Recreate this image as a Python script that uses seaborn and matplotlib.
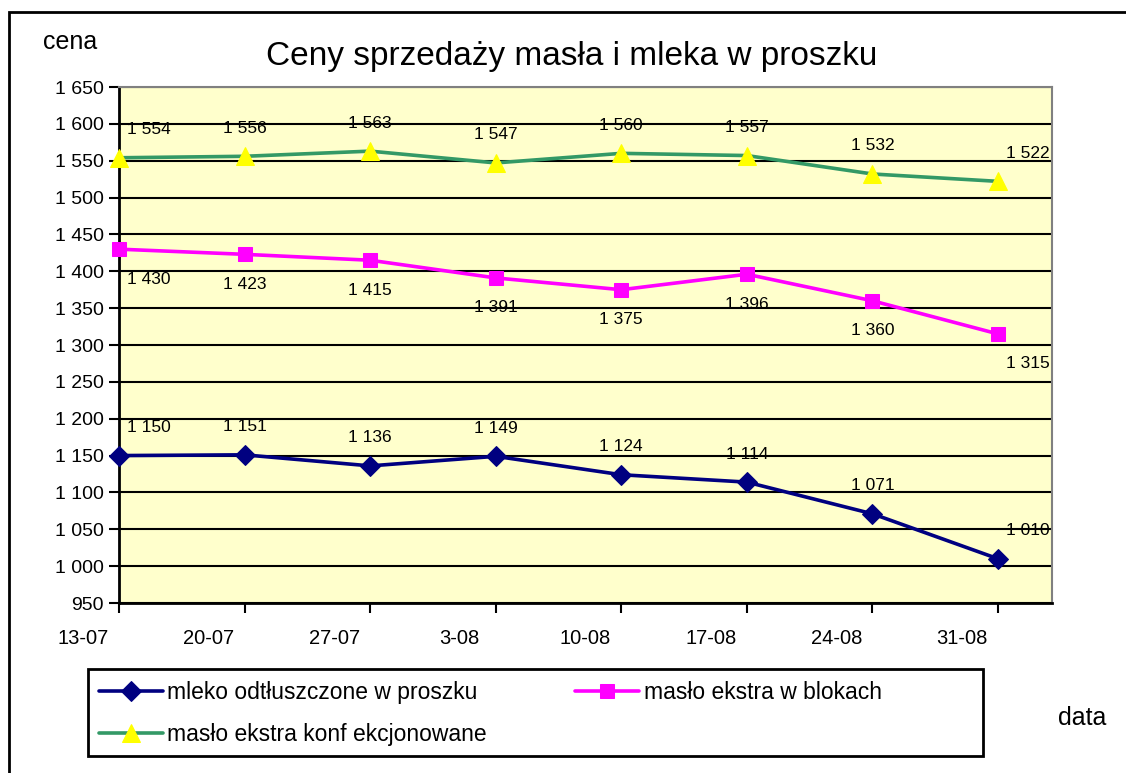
import numpy as np
import pandas as pd
import matplotlib
matplotlib.use("Agg")
import matplotlib.pyplot as plt
import matplotlib.transforms as mtransforms
from matplotlib.patches import Rectangle
import seaborn as sns

# Data
dates = ["13-07", "20-07", "27-07", "3-08", "10-08", "17-08", "24-08", "31-08"]
mleko = [1150, 1151, 1136, 1149, 1124, 1114, 1071, 1010]
maslo_bloki = [1430, 1423, 1415, 1391, 1375, 1396, 1360, 1315]
maslo_konf = [1554, 1556, 1563, 1547, 1560, 1557, 1532, 1522]
y_ticks = list(range(950, 1651, 50))

sns.set_style("white")
plt.rcParams['font.family'] = ['Liberation Sans', 'DejaVu Sans']
plt.rcParams.update({"text.color": "black", "xtick.color": "black",
                     "ytick.color": "black", "axes.labelcolor": "black"})

fig = plt.figure(figsize=(11.26, 7.73), dpi=100)
fig.patch.set_facecolor("white")

# outer chart border
fig.patches.append(Rectangle((9 / 1126, -0.05), 1.2, 1 - 12 / 773 + 0.05,
                             transform=fig.transFigure, fill=False,
                             edgecolor="black", linewidth=2))
# legend frame
fig.patches.append(Rectangle((88 / 1126, 1 - 756 / 773), (983 - 88) / 1126, (756 - 669) / 773,
                             transform=fig.transFigure, fill=False,
                             edgecolor="black", linewidth=2))

ax = fig.add_axes([119 / 1126, 1 - 603 / 773, (1052 - 119) / 1126, (603 - 87) / 773])
ax.set_facecolor("#FFFFCC")

x = np.arange(len(dates))
series = [
    ("mleko odtłuszczone w proszku", mleko, "#000080", "D", 10, "#000080", "above"),
    ("masło ekstra konf ekcjonowane", maslo_konf, "#339966", "^", 13, "#FFFF00", "above"),
    ("masło ekstra w blokach", maslo_bloki, "#FF00FF", "s", 10, "#FF00FF", "below"),
]

for name, vals, col, mk, ms, mcol, pos in series:
    sns.lineplot(x=x, y=vals, ax=ax, color=col, linewidth=2.6, marker=mk,
                 markersize=ms, markerfacecolor=mcol, markeredgecolor=mcol,
                 label=name, zorder=3, clip_on=False)
    for i, v in enumerate(vals):
        txt = f"{v:,}".replace(",", " ")
        dy = 28 if pos == "above" else -30
        if i == 0 or i == len(vals) - 1:
            ha, dx = "left", 8
        else:
            ha, dx = "center", 0
        ax.annotate(txt, (i, v), xytext=(dx, dy), textcoords="offset pixels",
                    ha=ha, va="center", fontsize=12.5, color="black", zorder=4)

ax.set_xlim(0, 7.43)
ax.set_ylim(950, 1650)
ax.set_yticks(y_ticks)
ax.set_yticklabels([f"{v:,}".replace(",", " ") for v in y_ticks])
ax.set_xticks(x)
ax.set_xticklabels(dates)
ax.yaxis.grid(True, color="black", linewidth=1.5)
ax.set_axisbelow(True)
ax.tick_params(axis="both", direction="out", length=7, width=1.5, color="black",
               labelsize=14, pad=4)
ax.tick_params(axis="x", pad=12, labelsize=14.5)
ax.tick_params(left=True, bottom=True)

# category labels in the original sit left of their tick marks
shift = mtransforms.ScaledTranslation(-0.36, 0, fig.dpi_scale_trans)
for lbl in ax.get_xticklabels():
    lbl.set_transform(lbl.get_transform() + shift)

for side in ["left", "bottom"]:
    ax.spines[side].set_color("black")
    ax.spines[side].set_linewidth(2)
for side in ["top", "right"]:
    ax.spines[side].set_color("#808080")
    ax.spines[side].set_linewidth(1.5)
ax.set_xlabel("")
ax.set_ylabel("")

fig.text(572 / 1126, 1 - 57 / 773, "Ceny sprzedaży masła i mleka w proszku",
         ha="center", va="center", fontsize=24)
fig.text(43 / 1126, 1 - 42 / 773, "cena", ha="left", va="center", fontsize=18)
fig.text(1058 / 1126, 1 - 718 / 773, "data", ha="left", va="center", fontsize=18)

ax.get_legend().remove()
handles, labels = ax.get_legend_handles_labels()
leg = fig.legend(handles, labels, ncol=2, loc="upper left",
                 bbox_to_anchor=(94 / 1126, 1 - 676 / 773),
                 frameon=False, fontsize=16.5, handlelength=2.8, handletextpad=0.2,
                 borderaxespad=0, labelspacing=0.85, borderpad=0.2,
                 columnspacing=3.85)

fig.savefig("out.png", dpi=100)
